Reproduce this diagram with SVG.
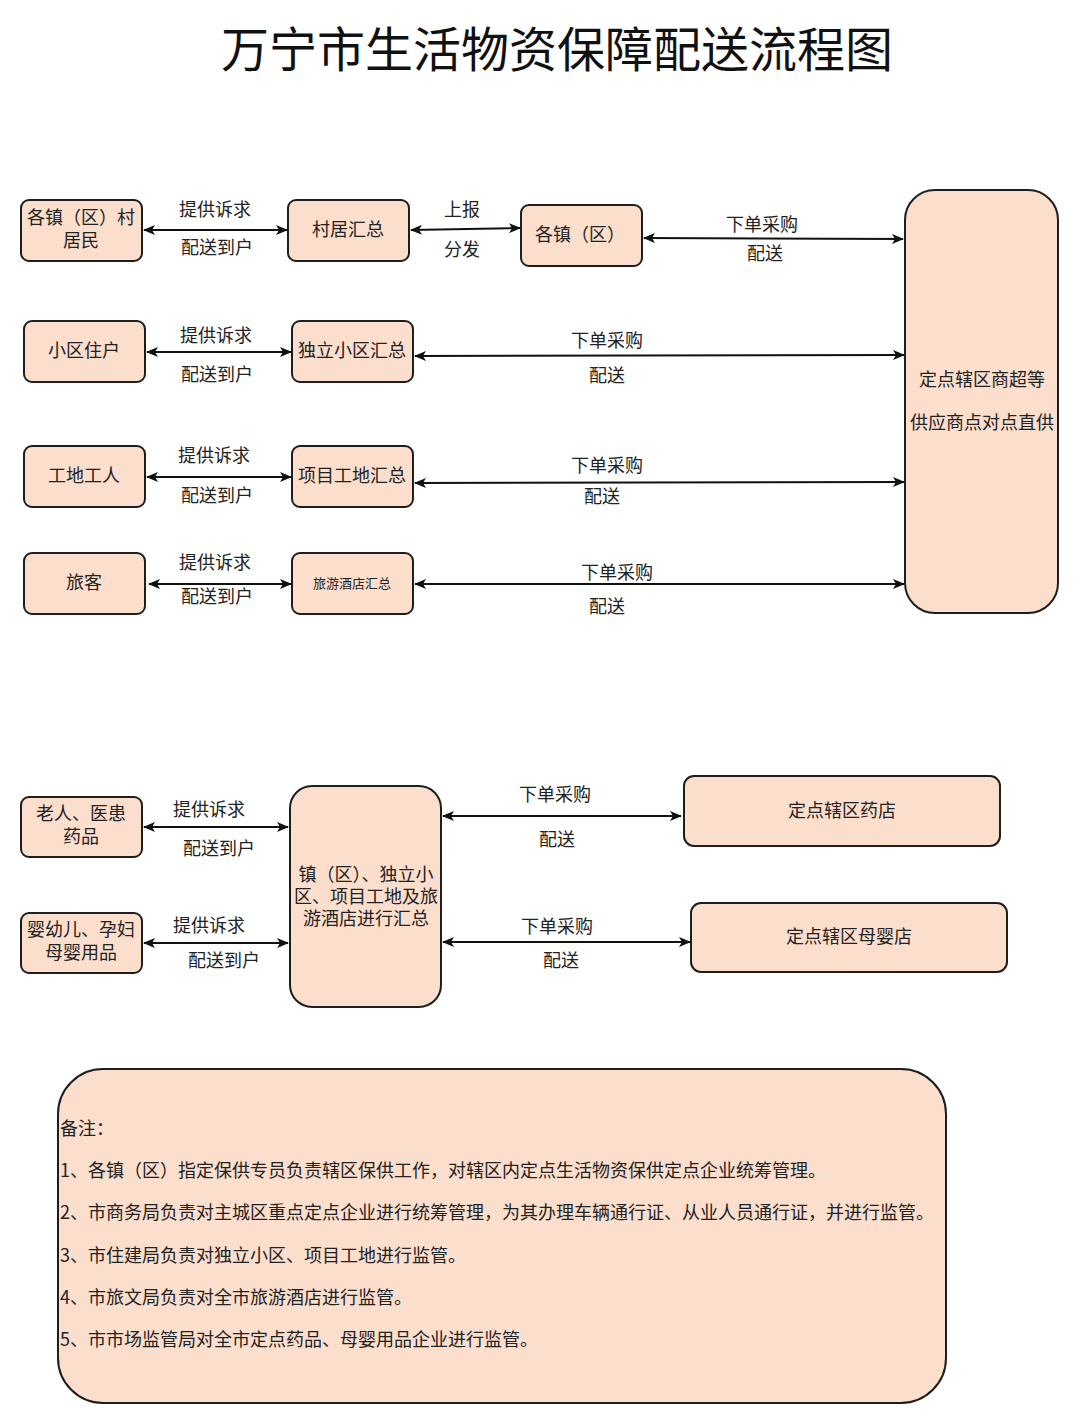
<svg xmlns="http://www.w3.org/2000/svg" width="1080" height="1424" viewBox="0 0 1080 1424">
<defs>
<style>
.n{fill:#fcdecd;stroke:#1e1e1e;stroke-width:2}
.t{font-family:"Noto Sans CJK SC","Noto Sans",sans-serif;font-size:18px;fill:#222;text-anchor:middle}
.l{font-family:"Noto Sans CJK SC","Noto Sans",sans-serif;font-size:18px;fill:#222;text-anchor:middle}
.nt{font-family:"Noto Sans CJK SC","Noto Sans",sans-serif;font-size:18px;fill:#222}
.c{stroke:#111;stroke-width:2;fill:none;marker-start:url(#ah);marker-end:url(#ah)}
</style>
<marker id="ah" viewBox="0 0 12 10" refX="11" refY="5" markerWidth="12" markerHeight="10" markerUnits="userSpaceOnUse" orient="auto-start-reverse">
<path d="M0,0 L12,5 L0,10 L3,5 z" fill="#111"/>
</marker>
</defs>
<rect width="1080" height="1424" fill="#fff"/>
<text x="557" y="67" font-family="'Noto Sans CJK SC',sans-serif" font-size="48" text-anchor="middle" fill="#111">万宁市生活物资保障配送流程图</text>

<g id="edges">
<line class="c" x1="144" y1="230" x2="287" y2="230"/>
<line class="c" x1="411" y1="230" x2="520" y2="228"/>
<line class="c" x1="644" y1="238" x2="903" y2="239"/>
<line class="c" x1="147" y1="352" x2="291" y2="352"/>
<line class="c" x1="415" y1="356" x2="904" y2="355"/>
<line class="c" x1="147" y1="477" x2="291" y2="477"/>
<line class="c" x1="415" y1="483" x2="904" y2="482"/>
<line class="c" x1="149" y1="584" x2="291" y2="584"/>
<line class="c" x1="415" y1="584" x2="904" y2="584"/>
<line class="c" x1="144" y1="827" x2="288" y2="827"/>
<line class="c" x1="144" y1="943" x2="288" y2="943"/>
<line class="c" x1="443" y1="816" x2="681" y2="816"/>
<line class="c" x1="443" y1="942" x2="690" y2="942"/>
<text class="l" x="215" y="216">提供诉求</text>
<text class="l" x="217" y="254">配送到户</text>
<text class="l" x="462" y="216">上报</text>
<text class="l" x="462" y="256">分发</text>
<text class="l" x="762" y="231">下单采购</text>
<text class="l" x="765" y="260">配送</text>
<text class="l" x="216" y="342">提供诉求</text>
<text class="l" x="217" y="381">配送到户</text>
<text class="l" x="607" y="347">下单采购</text>
<text class="l" x="607" y="382">配送</text>
<text class="l" x="214" y="462">提供诉求</text>
<text class="l" x="217" y="502">配送到户</text>
<text class="l" x="607" y="472">下单采购</text>
<text class="l" x="602" y="503">配送</text>
<text class="l" x="215" y="569">提供诉求</text>
<text class="l" x="217" y="603">配送到户</text>
<text class="l" x="617" y="579">下单采购</text>
<text class="l" x="607" y="613">配送</text>
<text class="l" x="209" y="816">提供诉求</text>
<text class="l" x="219" y="855">配送到户</text>
<text class="l" x="209" y="932">提供诉求</text>
<text class="l" x="224" y="967">配送到户</text>
<text class="l" x="555" y="801">下单采购</text>
<text class="l" x="557" y="846">配送</text>
<text class="l" x="557" y="933">下单采购</text>
<text class="l" x="561" y="967">配送</text>
</g>

<g id="n-cunmin"><rect class="n" x="21" y="200" width="121" height="61" rx="8"/><text class="t" x="81" y="224">各镇（区）村</text><text class="t" x="81" y="247">居民</text></g>
<g id="n-cunju"><rect class="n" x="288" y="200" width="121" height="61" rx="8"/><text class="t" x="348" y="236">村居汇总</text></g>
<g id="n-zhen"><rect class="n" x="521" y="205" width="121" height="61" rx="8"/><text class="t" x="580" y="241">各镇（区）</text></g>
<g id="n-shangchao"><rect class="n" x="905" y="190" width="153" height="423" rx="30"/><text class="t" x="982" y="386">定点辖区商超等</text><text class="t" x="982" y="429">供应商点对点直供</text></g>
<g id="n-xiaoqu"><rect class="n" x="24" y="321" width="121" height="61" rx="8"/><text class="t" x="84" y="357">小区住户</text></g>
<g id="n-duli"><rect class="n" x="292" y="321" width="121" height="61" rx="8"/><text class="t" x="352" y="357">独立小区汇总</text></g>
<g id="n-gongdi"><rect class="n" x="24" y="446" width="121" height="61" rx="8"/><text class="t" x="84" y="482">工地工人</text></g>
<g id="n-xiangmu"><rect class="n" x="292" y="446" width="121" height="61" rx="8"/><text class="t" x="352" y="482">项目工地汇总</text></g>
<g id="n-lvke"><rect class="n" x="24" y="553" width="121" height="61" rx="8"/><text class="t" x="84" y="589">旅客</text></g>
<g id="n-jiudian"><rect class="n" x="292" y="553" width="121" height="61" rx="8"/><text class="t" x="352" y="588" style="font-size:13px">旅游酒店汇总</text></g>
<g id="n-laoren"><rect class="n" x="21" y="797" width="121" height="60" rx="8"/><text class="t" x="81" y="820">老人、医患</text><text class="t" x="81" y="843">药品</text></g>
<g id="n-yingyou"><rect class="n" x="21" y="913" width="121" height="60" rx="8"/><text class="t" x="81" y="936">婴幼儿、孕妇</text><text class="t" x="81" y="959">母婴用品</text></g>
<g id="n-huizong"><rect class="n" x="290" y="786" width="151" height="221" rx="22"/><text class="t" x="366" y="881">镇（区）、独立小</text><text class="t" x="366" y="903">区、项目工地及旅</text><text class="t" x="366" y="925">游酒店进行汇总</text></g>
<g id="n-yaodian"><rect class="n" x="684" y="776" width="316" height="70" rx="10"/><text class="t" x="842" y="817">定点辖区药店</text></g>
<g id="n-muying"><rect class="n" x="691" y="903" width="316" height="69" rx="10"/><text class="t" x="849" y="943">定点辖区母婴店</text></g>

<g id="n-notes"><rect class="n" x="58" y="1069" width="888" height="334" rx="45"/>
<text class="nt" x="60" y="1135">备注：</text>
<text class="nt" x="60" y="1177">1、各镇（区）指定保供专员负责辖区保供工作，对辖区内定点生活物资保供定点企业统筹管理。</text>
<text class="nt" x="60" y="1219">2、市商务局负责对主城区重点定点企业进行统筹管理，为其办理车辆通行证、从业人员通行证，并进行监管。</text>
<text class="nt" x="60" y="1262">3、市住建局负责对独立小区、项目工地进行监管。</text>
<text class="nt" x="60" y="1304">4、市旅文局负责对全市旅游酒店进行监管。</text>
<text class="nt" x="60" y="1346">5、市市场监管局对全市定点药品、母婴用品企业进行监管。</text>
</g>
</svg>
